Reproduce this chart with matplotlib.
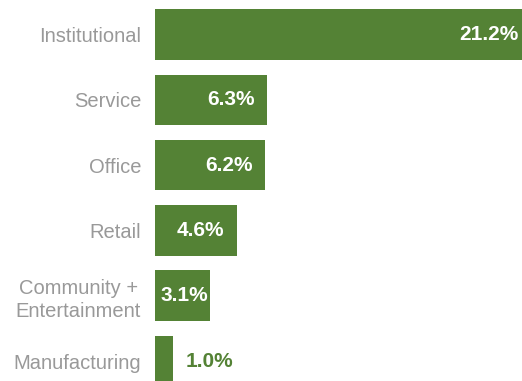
import matplotlib
matplotlib.use("Agg")
import matplotlib.pyplot as plt

categories = ["Institutional", "Service", "Office", "Retail",
              "Community +\nEntertainment", "Manufacturing"]
values = [21.2, 6.3, 6.2, 4.6, 3.1, 1.0]
value_labels = ["21.2%", "6.3%", "6.2%", "4.6%", "3.1%", "1.0%"]

GREEN = "#548235"
GRAY = "#999999"

plt.rcParams["font.family"] = ["Liberation Sans", "DejaVu Sans"]

W, H, DPI = 522, 381, 100
fig = plt.figure(figsize=(W / DPI, H / DPI), dpi=DPI)
left_px = 155
ax = fig.add_axes([left_px / W, 0, (W - left_px) / W, 1])

y = list(range(len(categories)))
ax.barh(y, values, height=0.773, color=GREEN)

px_per_unit = 17.75
ax.set_xlim(0, (W - left_px) / px_per_unit)
ax.set_ylim(5.306, -0.528)

for s in ax.spines.values():
    s.set_visible(False)
ax.set_xticks([])
ax.set_yticks(y)
ax.set_yticklabels(categories, color=GRAY, fontsize=14.5, linespacing=1.28)
for t in ax.get_yticklabels():
    t.set_multialignment("center")
ax.tick_params(axis="y", length=0, pad=10)

pad_pt = 9
vfs = 15
for yi, v, lab in zip(y, values, value_labels):
    if v >= 4:
        ax.annotate(lab, xy=(v, yi), xytext=(-pad_pt, 0), textcoords="offset points",
                    ha="right", va="center", color="white", fontsize=vfs,
                    fontweight="bold", annotation_clip=False)
    elif v >= 2:
        ax.annotate(lab, xy=(v / 2, yi), xytext=(1.5, 0), textcoords="offset points",
                    ha="center", va="center", color="white", fontsize=vfs,
                    fontweight="bold")
    else:
        ax.annotate(lab, xy=(v, yi), xytext=(pad_pt, 0), textcoords="offset points",
                    ha="left", va="center", color=GREEN, fontsize=vfs,
                    fontweight="bold")

fig.savefig("out.png", dpi=DPI)
